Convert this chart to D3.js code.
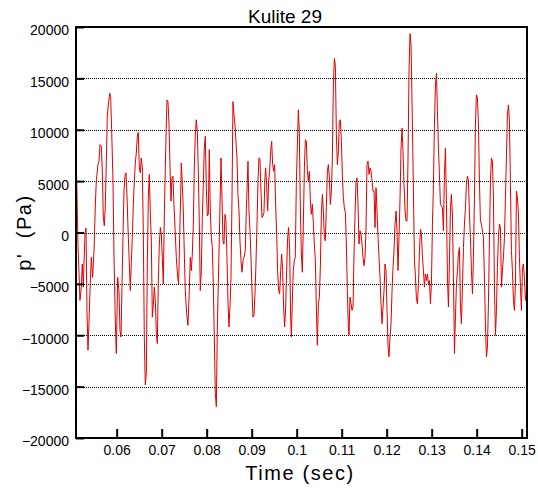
<!DOCTYPE html>
<html>
<head>
<meta charset="utf-8">
<script src="https://cdnjs.cloudflare.com/ajax/libs/d3/7.8.5/d3.min.js"></script>
<style>
  body { margin: 0; background: #fff; }
  #chart text { font-family: "Liberation Sans", Arial, sans-serif; fill: #000; }
  .tick line { stroke: #000; stroke-width: 2; }
  .grid line { stroke: #000; stroke-width: 1; stroke-dasharray: 1,1; }
</style>
</head>
<body>
<div id="chart"></div>
<script>
(function() {
  'use strict';

  var title = 'Kulite 29';
  var xLabel = 'Time (sec)';
  var yLabel = "p'  (Pa)";

  var xTicks = [0.06, 0.07, 0.08, 0.09, 0.1, 0.11, 0.12, 0.13, 0.14, 0.15];
  var yTicks = [-20000, -15000, -10000, -5000, 0, 5000, 10000, 15000, 20000];
  var xRange = [0.05096, 0.15118];
  var yRange = [-20000, 20000];

  // time (s)
  var timeSec = [
    0.05110, 0.05140, 0.05162, 0.05184, 0.05214, 0.05236, 0.05259, 0.05273, 0.05296, 0.05318,
    0.05340, 0.05362, 0.05384, 0.05407, 0.05436, 0.05466, 0.05496, 0.05525, 0.05547, 0.05584,
    0.05607, 0.05629, 0.05659, 0.05681, 0.05703, 0.05725, 0.05747, 0.05770, 0.05792, 0.05822,
    0.05844, 0.05866, 0.05888, 0.05918, 0.05940, 0.05970, 0.05992, 0.06022, 0.06051, 0.06073,
    0.06096, 0.06118, 0.06140, 0.06162, 0.06184, 0.06207, 0.06222, 0.06236, 0.06259, 0.06281,
    0.06303, 0.06325, 0.06347, 0.06370, 0.06392, 0.06414, 0.06436, 0.06459, 0.06481, 0.06503,
    0.06525, 0.06547, 0.06570, 0.06592, 0.06614, 0.06636, 0.06659, 0.06681, 0.06703, 0.06725,
    0.06747, 0.06770, 0.06792, 0.06814, 0.06836, 0.06859, 0.06881, 0.06903, 0.06925, 0.06947,
    0.06970, 0.06992, 0.07014, 0.07036, 0.07059, 0.07081, 0.07103, 0.07118, 0.07140, 0.07162,
    0.07184, 0.07207, 0.07229, 0.07251, 0.07273, 0.07296, 0.07325, 0.07355, 0.07377, 0.07399,
    0.07422, 0.07436, 0.07459, 0.07481, 0.07503, 0.07525, 0.07555, 0.07584, 0.07614, 0.07636,
    0.07658, 0.07681, 0.07703, 0.07725, 0.07747, 0.07769, 0.07792, 0.07814, 0.07836, 0.07858,
    0.07881, 0.07903, 0.07925, 0.07947, 0.07969, 0.07992, 0.08014, 0.08036, 0.08058, 0.08081,
    0.08103, 0.08125, 0.08147, 0.08169, 0.08192, 0.08214, 0.08236, 0.08258, 0.08281, 0.08303,
    0.08318, 0.08340, 0.08362, 0.08384, 0.08407, 0.08429, 0.08451, 0.08473, 0.08495, 0.08518,
    0.08540, 0.08562, 0.08584, 0.08607, 0.08629, 0.08651, 0.08673, 0.08695, 0.08718, 0.08740,
    0.08762, 0.08784, 0.08807, 0.08829, 0.08858, 0.08881, 0.08903, 0.08918, 0.08940, 0.08962,
    0.08984, 0.09007, 0.09029, 0.09051, 0.09073, 0.09095, 0.09118, 0.09140, 0.09162, 0.09184,
    0.09207, 0.09229, 0.09251, 0.09273, 0.09295, 0.09310, 0.09332, 0.09355, 0.09377, 0.09399,
    0.09421, 0.09444, 0.09466, 0.09488, 0.09510, 0.09532, 0.09555, 0.09577, 0.09599, 0.09621,
    0.09644, 0.09666, 0.09688, 0.09710, 0.09732, 0.09755, 0.09777, 0.09799, 0.09821, 0.09844,
    0.09866, 0.09881, 0.09903, 0.09925, 0.09947, 0.09969, 0.09992, 0.10037, 0.10059, 0.10082,
    0.10104, 0.10126, 0.10148, 0.10171, 0.10193, 0.10215, 0.10237, 0.10259, 0.10282, 0.10304,
    0.10326, 0.10348, 0.10371, 0.10393, 0.10415, 0.10437, 0.10459, 0.10482, 0.10504, 0.10526,
    0.10548, 0.10571, 0.10593, 0.10615, 0.10637, 0.10659, 0.10682, 0.10704, 0.10726, 0.10748,
    0.10771, 0.10793, 0.10815, 0.10837, 0.10859, 0.10882, 0.10904, 0.10926, 0.10948, 0.10971,
    0.10993, 0.11015, 0.11037, 0.11059, 0.11082, 0.11104, 0.11126, 0.11148, 0.11163, 0.11185,
    0.11208, 0.11230, 0.11252, 0.11274, 0.11297, 0.11319, 0.11341, 0.11363, 0.11385, 0.11408,
    0.11430, 0.11452, 0.11474, 0.11497, 0.11519, 0.11541, 0.11563, 0.11585, 0.11608, 0.11630,
    0.11652, 0.11674, 0.11697, 0.11719, 0.11741, 0.11763, 0.11785, 0.11808, 0.11830, 0.11852,
    0.11874, 0.11897, 0.11919, 0.11941, 0.11963, 0.11985, 0.12008, 0.12030, 0.12052, 0.12074,
    0.12097, 0.12119, 0.12141, 0.12163, 0.12185, 0.12208, 0.12230, 0.12252, 0.12274, 0.12297,
    0.12319, 0.12341, 0.12363, 0.12385, 0.12408, 0.12430, 0.12452, 0.12474, 0.12497, 0.12519,
    0.12541, 0.12572, 0.12594, 0.12617, 0.12639, 0.12661, 0.12683, 0.12706, 0.12728, 0.12750,
    0.12772, 0.12794, 0.12817, 0.12839, 0.12861, 0.12883, 0.12906, 0.12928, 0.12950, 0.12972,
    0.12994, 0.13017, 0.13039, 0.13061, 0.13083, 0.13106, 0.13128, 0.13150, 0.13172, 0.13194,
    0.13217, 0.13239, 0.13261, 0.13283, 0.13306, 0.13328, 0.13350, 0.13372, 0.13394, 0.13417,
    0.13439, 0.13461, 0.13483, 0.13506, 0.13528, 0.13550, 0.13572, 0.13594, 0.13617, 0.13639,
    0.13661, 0.13683, 0.13706, 0.13728, 0.13750, 0.13772, 0.13794, 0.13817, 0.13839, 0.13861,
    0.13883, 0.13906, 0.13928, 0.13950, 0.13972, 0.13994, 0.14017, 0.14039, 0.14061, 0.14083,
    0.14106, 0.14128, 0.14150, 0.14172, 0.14194, 0.14217, 0.14239, 0.14261, 0.14283, 0.14306,
    0.14328, 0.14350, 0.14372, 0.14394, 0.14417, 0.14439, 0.14461, 0.14483, 0.14506, 0.14528,
    0.14550, 0.14572, 0.14594, 0.14617, 0.14639, 0.14661, 0.14683, 0.14706, 0.14728, 0.14750,
    0.14772, 0.14794, 0.14817, 0.14839, 0.14861, 0.14883, 0.14906, 0.14928, 0.14950, 0.14972,
    0.14994, 0.15017, 0.15039, 0.15061, 0.15083, 0.15106
  ];

  // pressure fluctuation (Pa)
  var pressurePa = [
    5480, -1130, -3870, -6610, -5320, -3060, -5320, -3060, -160, 420,
    -7580, -11450, -8870, -5650, -2420, -4360, -1770, 2580, 5000, 6610,
    6940, 8550, 8390, 5970, 1450, 650, 2580, 6940, 11450, 12740,
    13550, 13230, 10000, 5000, -2100, -8870, -11770, -4360, -5650, -9520,
    -10160, -5320, -480, 4030, 5480, 5810, 4360, 2580, -480, -3060,
    -5650, -2900, -480, 2740, 5000, 6770, 7740, 9360, 9770, 6290,
    5810, 7260, 6290, -160, -10160, -14840, -13710, -3060, 3390, 5650,
    1940, -810, -8230, -7100, -5320, -6610, -9840, -10810, -5000, -1130,
    480, -160, -2420, -5000, 1770, 6290, 10650, 12900, 12740, 10650,
    6610, 3060, 5320, 5480, 2740, 480, -2420, -4360, -5000, -480,
    3710, 6770, 4680, 2100, -2100, -5650, -7900, -9030, -5650, -2420,
    -3710, -2100, 810, 6290, 9520, 10970, 9840, 5970, 810, -5650,
    -3710, 1450, 4680, 8230, 9360, 4360, 1610, 1770, 8070, 2100,
    -480, -1450, -5000, -10160, -15650, -16940, -9520, -5000, -480, 4030,
    7260, 3390, -810, -1130, 1770, 1130, -2420, -6610, -9190, -7260,
    -4360, 3060, 12740, 11450, 10480, 8870, 7260, 3710, 2100, -810,
    -2740, -3870, -2740, -2420, -1770, 2260, 5000, 6940, 2100, 160,
    -2420, -5650, -8230, -8070, -5970, -3060, 810, 5000, 7260, 7100,
    4030, 1450, 1610, 1940, 5320, 6290, 4680, 2100, 5000, 5970,
    7900, 8870, 6610, 5970, 6610, 2740, -160, -3710, -5650, -5970,
    -3710, -2100, -3710, -7260, -9190, -7260, -3710, -480, 480, -1770,
    -8230, -10160, -6610, -3710, -2740, -2420, 4680, 11940, 9840, 2100,
    -2100, -3870, 810, 6290, 9030, 8870, 5970, 5000, 5970, 3060,
    1770, 2740, 810, -1130, -2740, -7260, -10970, -6940, -6290, -3390,
    1770, 3710, 2100, -480, -810, 2420, 5970, 6610, 5320, 2740,
    4030, 7260, 14360, 16940, 16290, 9520, 6610, 7900, 10810, 10970,
    8870, 5650, 3390, 2420, 1940, -1130, -5650, -9190, -10000, -6290,
    -6940, -7580, -7260, -2100, 1770, 5000, 5320, 2740, -1130, 160,
    -160, -1130, -2420, -3230, -2420, 480, 6610, 6940, 5650, 6290,
    5970, 5000, 4030, 4030, 480, 4360, 2100, -480, -2420, -4360,
    -6940, -8870, -7260, -5650, -3060, -3710, -7580, -11130, -12100, -10160,
    -8870, -5650, -3390, -1770, 810, 2100, 160, -3710, -480, 3390,
    8230, 10160, 7900, 4680, 2100, 1130, 1130, 7260, 15970, 19360,
    18230, 10480, 4030, -2740, -4360, -6450, -6940, -5000, -1770, 320,
    -160, -2420, -3710, -5320, -4030, -4680, -4030, -5000, -4680, -6940,
    -5000, 810, 4680, 10480, 14360, 15490, 11770, 8230, 5650, 2740,
    2580, 2420, 160, 5650, 8230, 2740, -4360, -7260, -3060, 2420,
    3710, 1610, -4360, -11770, -8230, -5000, -3710, -2100, -1450, -7260,
    -8870, -5320, -1450, 810, 2420, 4680, 5480, 5000, 1770, -480,
    -3710, -5970, -2420, 3390, 10480, 13390, 13070, 10480, 5000, 1130,
    810, 160, -480, -4360, -8870, -12100, -11130, -6940, -810, 5000,
    7260, 6940, 3390, -5000, -10000, -7580, -3390, -480, 810, 480,
    -5320, -3710, -2420, -480, 3390, 7260, 11450, 12420, 10810, 4680,
    -1770, -3710, -6610, -7580, -5000, 4030, 3390, 1770, -2420, -5320,
    -7580, -3390, -3060, -4360, -6610, -5650
  ];

  var outer = { width: 538, height: 488 };
  var margin = { top: 27, right: 11, bottom: 50, left: 76 };
  var width = outer.width - margin.left - margin.right,
    height = outer.height - margin.top - margin.bottom;

  var data = timeSec.map(function(t, i) {
    return { t: t, p: pressurePa[i] };
  });

  var x = d3.scaleLinear().domain(xRange).range([0, width]);
  var y = d3.scaleLinear().domain(yRange).range([height, 0]);

  var svg = d3.select('#chart').append('svg')
    .attr('width', outer.width)
    .attr('height', outer.height);

  svg.append('rect')
    .attr('width', outer.width)
    .attr('height', outer.height)
    .attr('fill', '#fff');

  var g = svg.append('g')
    .attr('transform', 'translate(' + margin.left + ',' + margin.top + ')');

  // dotted grid
  g.append('g')
    .attr('class', 'grid')
    .selectAll('line')
    .data(yTicks.filter(function(d) { return d > yRange[0] && d < yRange[1]; }))
    .enter().append('line')
    .attr('x1', 0)
    .attr('x2', width)
    .attr('y1', function(d) { return Math.round(y(d)) + 0.5; })
    .attr('y2', function(d) { return Math.round(y(d)) + 0.5; });

  g.append('clipPath')
    .attr('id', 'plot-clip')
    .append('rect')
    .attr('width', width)
    .attr('height', height);

  var line = d3.line()
    .x(function(d) { return x(d.t); })
    .y(function(d) { return y(d.p); });

  g.append('path')
    .datum(data)
    .attr('clip-path', 'url(#plot-clip)')
    .attr('fill', 'none')
    .attr('stroke', '#e00000')
    .attr('stroke-width', 1)
    .attr('d', line);

  var yAxis = d3.axisLeft(y)
    .tickValues(yTicks)
    .tickFormat(d3.format('d'))
    .tickSizeInner(-8)
    .tickSizeOuter(0)
    .tickPadding(7);

  var xAxis = d3.axisBottom(x)
    .tickValues(xTicks)
    .tickFormat(function(d) { return String(d); })
    .tickSizeInner(-9)
    .tickSizeOuter(0)
    .tickPadding(7);

  var gy = g.append('g').attr('class', 'y axis').call(yAxis);
  gy.select('.domain').remove();
  gy.selectAll('text')
    .attr('dy', '0.57em')
    .style('font-size', '14px');

  var gx = g.append('g')
    .attr('class', 'x axis')
    .attr('transform', 'translate(0,' + height + ')')
    .call(xAxis);
  gx.select('.domain').remove();
  gx.selectAll('text').style('font-size', '14px');

  // frame
  g.append('rect')
    .attr('width', width)
    .attr('height', height)
    .attr('fill', 'none')
    .attr('stroke', '#000')
    .attr('stroke-width', 2);

  svg.append('text')
    .attr('x', 285)
    .attr('y', 23)
    .attr('text-anchor', 'middle')
    .style('font-size', '19px')
    .text(title);

  svg.append('text')
    .attr('x', 300)
    .attr('y', 480)
    .attr('text-anchor', 'middle')
    .style('font-size', '20px')
    .style('letter-spacing', '1.6px')
    .text(xLabel);

  svg.append('text')
    .attr('transform', 'translate(31,' + (margin.top + height / 2) + ') rotate(-90)')
    .attr('text-anchor', 'middle')
    .style('font-size', '20px')
    .style('letter-spacing', '1.6px')
    .style('white-space', 'pre')
    .text(yLabel);
})();
</script>
</body>
</html>
